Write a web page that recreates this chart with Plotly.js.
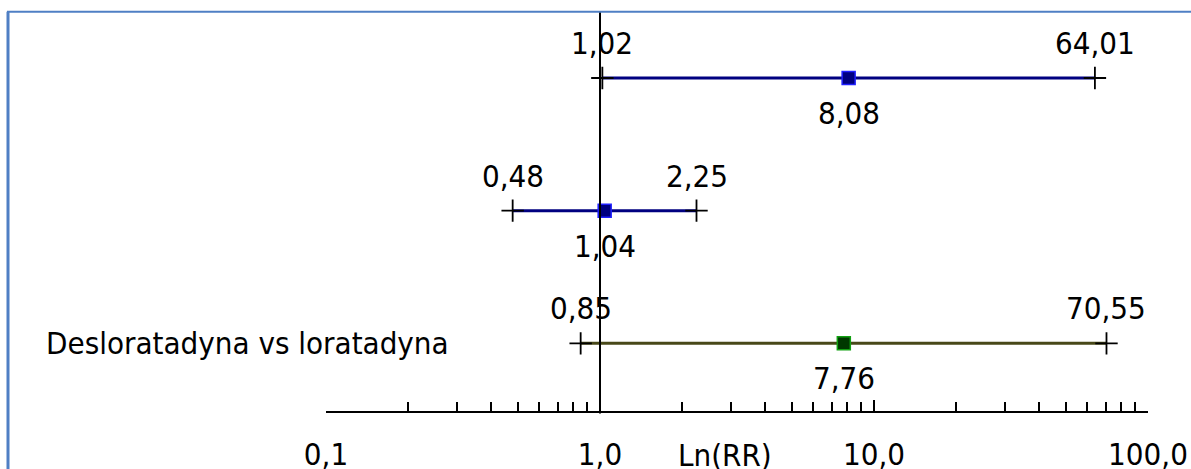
<!DOCTYPE html>
<html>
<head>
<meta charset="utf-8">
<script src="https://cdn.plot.ly/plotly-3.0.1.min.js"></script>
<style>html,body{margin:0;padding:0;background:#fff;}#chart{width:1191px;height:469px;}</style>
</head>
<body>
<div id="chart"></div>
<script>
// Data
var rowNames = ['', '', 'Desloratadyna vs loratadyna'];
var rowPos = [3, 2, 1];
var rr = [8.08, 1.04, 7.76];
var lower = [1.02, 0.48, 0.85];
var upper = [64.01, 2.25, 70.55];
var lineColors = ['#000080', '#000080', '#484818'];
var markerFill = ['#000080', '#000080', '#003800'];
var markerEdge = ['#1f1fff', '#1f1fff', '#12a012'];
var tickVals = [0.1, 1, 10, 100];
var tickText = ['0,1', '1,0', '10,0', '100,0'];
var minorVals = [0.2,0.3,0.4,0.5,0.6,0.7,0.8,0.9,2,3,4,5,6,7,8,9,20,30,40,50,60,70,80,90];
var axisTitle = 'Ln(RR)';

var FONT = '"DejaVu Sans Condensed", "DejaVu Sans", sans-serif';
var FS = 31;
var fmt = function(v){ return v.toFixed(2).replace('.', ','); };

var traces = [];
for (var i = 0; i < rr.length; i++) {
  traces.push({
    type: 'scatter', mode: 'lines', x: [lower[i], upper[i]], y: [rowPos[i], rowPos[i]],
    line: {color: lineColors[i], width: 3}, hoverinfo: 'skip', showlegend: false
  });
}
var capX = [], capY = [];
for (var i = 0; i < rr.length; i++) { capX.push(lower[i], upper[i]); capY.push(rowPos[i], rowPos[i]); }
traces.push({
  type: 'scatter', mode: 'markers', x: capX, y: capY,
  marker: {symbol: 'cross-thin', size: 16, line: {color: '#000', width: 1.8}},
  hoverinfo: 'skip', showlegend: false
});
traces.push({
  type: 'scatter', mode: 'markers', x: rr, y: rowPos,
  marker: {symbol: 'square', size: 13, color: markerFill, line: {color: markerEdge, width: 1.5}},
  hoverinfo: 'skip', showlegend: false
});

var annotations = [];
for (var i = 0; i < rr.length; i++) {
  annotations.push({x: Math.log10(lower[i]), y: rowPos[i], text: fmt(lower[i]), showarrow: false, yshift: 35, xanchor: 'center', yanchor: 'middle'});
  annotations.push({x: Math.log10(upper[i]), y: rowPos[i], text: fmt(upper[i]), showarrow: false, yshift: 35, xanchor: 'center', yanchor: 'middle'});
  annotations.push({x: Math.log10(rr[i]), y: rowPos[i], text: fmt(rr[i]), showarrow: false, yshift: -35, xanchor: 'center', yanchor: 'middle'});
  if (rowNames[i]) {
    annotations.push({xref: 'paper', x: (44 - 326) / 822, y: rowPos[i], text: rowNames[i], showarrow: false, xanchor: 'left', yanchor: 'middle'});
  }
}
annotations.push({xref: 'paper', yref: 'paper', x: (725 - 326) / 822, y: 0, yshift: -44, text: axisTitle, showarrow: false, xanchor: 'center', yanchor: 'middle'});

var layout = {
  width: 1191, height: 469,
  margin: {l: 326, r: 43, t: 13, b: 58},
  paper_bgcolor: '#fff', plot_bgcolor: '#fff',
  font: {family: FONT, size: FS, color: '#000'},
  showlegend: false,
  xaxis: {
    type: 'log', range: [-1, 2], showgrid: false, zeroline: false,
    showline: true, linecolor: '#000', linewidth: 2,
    ticks: 'inside', ticklen: 11, tickwidth: 2, tickcolor: '#000',
    tickvals: tickVals, ticktext: tickText, ticklabelstandoff: 15,
    tickfont: {family: FONT, size: FS, color: '#000'},
    minor: {tickvals: minorVals, ticks: 'inside', ticklen: 9, tickwidth: 2, tickcolor: '#000', showgrid: false}
  },
  yaxis: {range: [0.49, 3.49], visible: false, showgrid: false, zeroline: false},
  annotations: annotations,
  shapes: [
    {type: 'line', xref: 'x', yref: 'paper', x0: 1, x1: 1, y0: -0.006, y1: 1.003, line: {color: '#000', width: 2}},
    {type: 'line', xref: 'paper', yref: 'paper', x0: (8 - 326) / 822, x1: (8 - 326) / 822, y0: -0.2, y1: 1.003, line: {color: '#4f7fc4', width: 3}},
    {type: 'line', xref: 'paper', yref: 'paper', x0: (7 - 326) / 822, x1: 1.06, y0: 1.003, y1: 1.003, line: {color: '#4f7fc4', width: 2}}
  ]
};

Plotly.newPlot('chart', traces, layout, {staticPlot: true, displayModeBar: false});
</script>
</body>
</html>
